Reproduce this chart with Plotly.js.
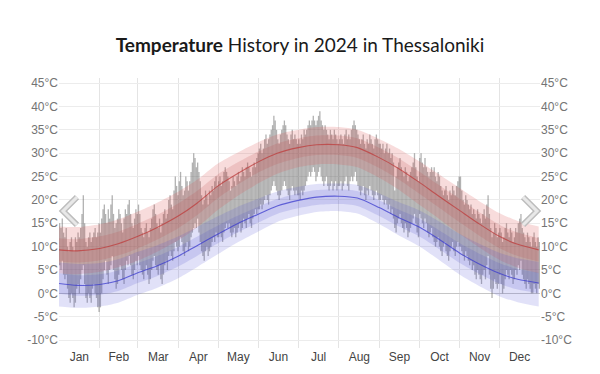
<!DOCTYPE html>
<html>
<head>
<meta charset="utf-8">
<script src="https://cdn.plot.ly/plotly-3.0.1.min.js"></script>
<style>
html,body{margin:0;padding:0;background:#fff;}
#chart{width:600px;height:374px;}
</style>
</head>
<body>
<div id="chart"></div>
<script>
// ---- Daily observed highs / lows (°C), 2024 ----
const highJan = [15,14,16,13,12,14,10,9,11,12,10,9,12,11,13,12,14,17,21,15,11,10,12,13,11,12,13,14,12,13,15];
const lowJan  = [6,5,7,4,3,4,1,-1,-2,0,-1,-3,-2,1,2,0,3,5,6,2,-1,-2,0,-1,-2,1,2,0,-1,-3,-4];
const highFeb = [13,16,18,19,17,15,18,16,19,21,17,14,15,16,18,17,15,13,16,18,17,19,20,17,15,14,16,18,17];
const lowFeb  = [-3,0,3,5,7,4,2,5,6,8,5,3,1,2,4,6,5,3,2,5,7,6,8,6,4,3,5,7,6];
const highMar = [19,17,14,13,12,14,15,13,12,14,16,18,19,17,15,14,16,13,15,17,18,16,17,20,21,19,18,22,25,23,21];
const lowMar  = [8,6,5,4,3,5,6,4,2,3,5,7,8,6,5,4,6,3,2,4,6,7,5,8,9,8,7,9,11,10,9];
const highApr = [24,26,23,21,22,25,24,22,24,26,28,30,29,27,28,26,24,21,19,20,22,21,19,22,21,23,22,24,25,23];
const lowApr  = [10,12,11,9,8,10,11,9,10,12,13,14,15,14,16,13,11,9,8,7,9,10,8,9,10,11,12,11,13,12];
const highMay = [24,25,23,24,26,27,26,25,24,22,23,25,24,23,25,26,24,25,27,26,25,27,28,27,26,25,27,28,27,29,30];
const lowMay  = [12,13,12,11,13,14,15,14,15,13,12,13,14,12,13,14,15,13,14,16,15,14,16,17,15,14,16,17,18,17,18];
const highJun = [31,32,30,31,33,34,32,33,34,35,36,38,37,35,33,32,34,35,36,37,36,34,33,32,34,35,33,34,33,32];
const lowJun  = [18,19,18,19,20,21,20,19,21,22,23,24,23,22,21,20,21,22,23,24,23,22,21,20,22,23,22,21,22,21];
const highJul = [33,32,34,33,35,34,35,36,37,36,37,38,37,36,37,38,39,37,36,35,36,35,34,33,35,34,33,35,34,33,32];
const lowJul  = [21,20,22,21,22,23,24,25,26,25,26,27,26,24,25,26,27,25,24,23,24,25,23,22,23,24,22,23,24,22,23];
const highAug = [33,34,33,32,34,35,33,34,33,35,36,37,36,35,34,33,32,33,34,32,31,33,32,34,33,32,31,33,34,33,32];
const lowAug  = [23,24,22,23,24,25,23,22,24,25,24,25,26,24,23,22,21,22,23,21,20,22,21,23,22,21,20,21,22,21,20];
const highSep = [32,31,32,30,31,32,30,31,29,30,28,22,25,27,28,29,27,26,25,27,26,24,25,26,27,28,30,27,25,24];
const lowSep  = [20,21,20,19,20,19,18,19,17,18,16,14,13,15,16,17,15,14,13,15,14,12,13,14,15,16,17,15,13,12];
const highOct = [29,30,28,27,29,27,26,25,26,27,26,27,25,24,26,25,23,22,21,22,23,21,20,22,21,23,22,21,23,24,25];
const lowOct  = [17,16,15,14,16,15,13,12,13,14,12,11,10,11,12,10,9,8,10,11,9,8,7,9,10,11,9,8,10,11,10];
const highNov = [25,22,20,19,21,20,19,18,19,17,18,17,16,18,17,16,15,17,18,16,19,21,17,14,12,13,15,14,12,13];
const lowNov  = [10,9,8,7,9,8,7,6,7,5,6,4,3,5,4,3,2,4,5,3,6,8,4,1,-1,1,3,2,1,2];
const highDec = [14,13,11,12,14,15,13,12,14,13,11,12,14,13,15,16,17,14,13,12,11,13,12,11,10,12,13,11,10,12,11];
const lowDec  = [4,2,0,1,3,5,4,3,5,4,2,3,5,4,6,5,7,4,3,2,1,3,2,1,0,0,2,1,0,2,1];

// ---- Climatology (reference points, °C) ----
const climDates = ['2024-01-01','2024-01-15','2024-02-01','2024-02-15','2024-03-01','2024-03-15','2024-04-01','2024-04-15',
  '2024-05-01','2024-05-15','2024-06-01','2024-06-15','2024-07-01','2024-07-15','2024-08-01','2024-08-15',
  '2024-09-01','2024-09-15','2024-10-01','2024-10-15','2024-11-01','2024-11-15','2024-12-01','2024-12-15','2024-12-31'];
const avgHigh = [9.3,9.1,9.6,10.6,12.2,14.0,16.6,19.3,23.0,25.5,28.2,30.0,31.2,31.8,31.8,31.2,29.0,26.8,23.8,21.0,17.7,15.0,12.2,10.5,9.3];
const highP90 = [14.3,14.2,14.8,15.8,17.5,19.3,21.8,24.3,27.8,30.0,32.4,34.0,35.0,35.6,35.6,35.0,33.0,31.0,28.3,25.7,22.5,19.9,17.2,15.5,14.3];
const highP75 = [11.8,11.6,12.2,13.2,14.9,16.7,19.3,21.9,25.5,27.9,30.4,32.1,33.2,33.8,33.8,33.2,31.1,29.0,26.1,23.4,20.2,17.5,14.7,13.0,11.8];
const highP25 = [6.8,6.6,7.1,8.1,9.6,11.4,14.0,16.7,20.4,23.1,25.9,27.7,29.0,29.6,29.6,29.0,26.8,24.5,21.4,18.6,15.2,12.5,9.7,8.0,6.8];
const highP10 = [4.3,4.1,4.6,5.6,7.0,8.8,11.4,14.1,17.9,20.7,23.6,25.6,27.0,27.6,27.6,27.0,24.7,22.3,19.0,16.2,12.7,10.0,7.2,5.5,4.3];
const avgLow  = [2.1,1.7,1.9,2.7,4.4,5.8,8.0,10.2,12.7,14.8,17.0,18.7,19.9,20.6,20.8,20.4,18.3,16.3,14.2,11.8,8.6,6.4,4.3,3.0,2.2];
const lowP90  = [6.6,6.3,6.5,7.3,8.9,10.2,12.2,14.2,16.5,18.4,20.3,21.8,22.8,23.4,23.5,23.2,21.4,19.6,17.8,15.6,12.7,10.7,8.7,7.5,6.7];
const lowP75  = [4.3,3.9,4.1,4.9,6.5,7.9,10.0,12.1,14.5,16.5,18.6,20.2,21.4,22.1,22.3,21.9,19.9,18.0,16.0,13.7,10.7,8.6,6.5,5.2,4.4];
const lowP25  = [-0.1,-0.5,-0.3,0.5,2.2,3.6,5.8,8.0,10.7,12.9,15.2,17.0,18.2,18.9,19.1,18.7,16.5,14.4,12.2,9.7,6.5,4.3,2.1,0.8,0.0];
const lowP10  = [-2.8,-3.1,-2.8,-2.0,-0.3,1.1,3.3,5.6,8.4,10.8,13.3,15.3,16.6,17.4,17.6,17.1,14.8,12.5,10.1,7.4,4.0,1.7,-0.6,-1.9,-2.8];

// ---- Axis ticks ----
const yTickVals = [-10,-5,0,5,10,15,20,25,30,35,40,45];
const yTickText = ['-10°C','-5°C','0°C','5°C','10°C','15°C','20°C','25°C','30°C','35°C','40°C','45°C'];

const dailyHigh = [].concat(highJan,highFeb,highMar,highApr,highMay,highJun,highJul,highAug,highSep,highOct,highNov,highDec);
const dailyLow  = [].concat(lowJan,lowFeb,lowMar,lowApr,lowMay,lowJun,lowJul,lowAug,lowSep,lowOct,lowNov,lowDec);

function pad(n){return (n<10?'0':'')+n;}
const dayDates = dailyHigh.map((_,i)=>{
  const d = new Date(Date.UTC(2024,0,1+i));
  return d.getUTCFullYear()+'-'+pad(d.getUTCMonth()+1)+'-'+pad(d.getUTCDate())+' 12:00';
});

const band = (y, fill, color) => ({
  x: climDates, y: y, type:'scatter', mode:'lines',
  line:{width:0, shape:'spline', smoothing:0.8},
  fill: fill, fillcolor: color, hoverinfo:'skip', showlegend:false
});

const traces = [
  band(highP10, 'none', 'rgba(0,0,0,0)'),
  band(highP90, 'tonexty', 'rgba(220,80,80,0.2)'),
  band(highP25, 'none', 'rgba(0,0,0,0)'),
  band(highP75, 'tonexty', 'rgba(190,70,70,0.18)'),
  band(lowP10, 'none', 'rgba(0,0,0,0)'),
  band(lowP90, 'tonexty', 'rgba(80,80,215,0.17)'),
  band(lowP25, 'none', 'rgba(0,0,0,0)'),
  band(lowP75, 'tonexty', 'rgba(70,70,200,0.16)'),
  {
    x: dayDates, y: dailyHigh.map((h,i)=>h-dailyLow[i]), base: dailyLow,
    type:'bar', width: 86400000,
    marker:{color:'rgba(85,85,85,0.45)', line:{width:0}},
    hoverinfo:'skip', showlegend:false
  },
  {x: climDates, y: avgHigh, type:'scatter', mode:'lines',
   line:{color:'rgba(190,60,60,0.75)', width:1.1, shape:'spline', smoothing:0.8}, hoverinfo:'skip', showlegend:false},
  {x: climDates, y: avgLow, type:'scatter', mode:'lines',
   line:{color:'rgba(60,60,205,0.75)', width:1.1, shape:'spline', smoothing:0.8}, hoverinfo:'skip', showlegend:false},
  {x: [null], y: [null], yaxis:'y2', type:'scatter', mode:'lines', showlegend:false, hoverinfo:'skip'}
];

const yBase = {
  range:[-11.7,46.1], tickmode:'array', tickvals:yTickVals, ticktext:yTickText,
  tickfont:{family:'Liberation Sans, Arial, sans-serif', size:12, color:'#747474'},
  fixedrange:true
};

const layout = {
  width:600, height:374,
  margin:{l:59, r:60, t:78, b:26, pad:0},
  paper_bgcolor:'#fff', plot_bgcolor:'#fff',
  showlegend:false,
  barmode:'overlay',
  title:{
    text:'<b>Temperature</b> History in 2024 in Thessaloniki',
    font:{family:'Lato, sans-serif', size:19, color:'#1a1a1a'},
    x:0.5, xanchor:'center', y:0.88, yanchor:'middle'
  },
  xaxis:{
    type:'date', range:['2024-01-01','2025-01-01'],
    dtick:'M1', tick0:'2024-01-01', tickformat:'%b', ticklabelmode:'period',
    showgrid:true, gridcolor:'#e4e4e4', gridwidth:1,
    zeroline:false, showline:false, ticks:'',
    tickfont:{family:'Liberation Sans, Arial, sans-serif', size:12, color:'#444'},
    fixedrange:true
  },
  yaxis: Object.assign({}, yBase, {
    side:'left', showgrid:true, gridcolor:'#ececec', gridwidth:1,
    zeroline:true, zerolinecolor:'#c6c6c6', zerolinewidth:1.5, showline:false, ticks:''
  }),
  yaxis2: Object.assign({}, yBase, {
    overlaying:'y', side:'right', showgrid:false, zeroline:false, showline:false, ticks:''
  }),
  shapes:[
    {type:'path', xref:'paper', yref:'paper', path:'M 0.0374 0.559 L 0.0083 0.507 L 0.0374 0.4556', line:{color:'#bdbdbd', width:6}},
    {type:'path', xref:'paper', yref:'paper', path:'M 0.0374 0.559 L 0.0083 0.507 L 0.0374 0.4556', line:{color:'#e8e8e8', width:3}},
    {type:'path', xref:'paper', yref:'paper', path:'M 0.9647 0.559 L 0.9938 0.507 L 0.9647 0.4556', line:{color:'#bdbdbd', width:6}},
    {type:'path', xref:'paper', yref:'paper', path:'M 0.9647 0.559 L 0.9938 0.507 L 0.9647 0.4556', line:{color:'#e8e8e8', width:3}}
  ]
};

Plotly.newPlot('chart', traces, layout, {displayModeBar:false, staticPlot:true});
</script>
</body>
</html>
